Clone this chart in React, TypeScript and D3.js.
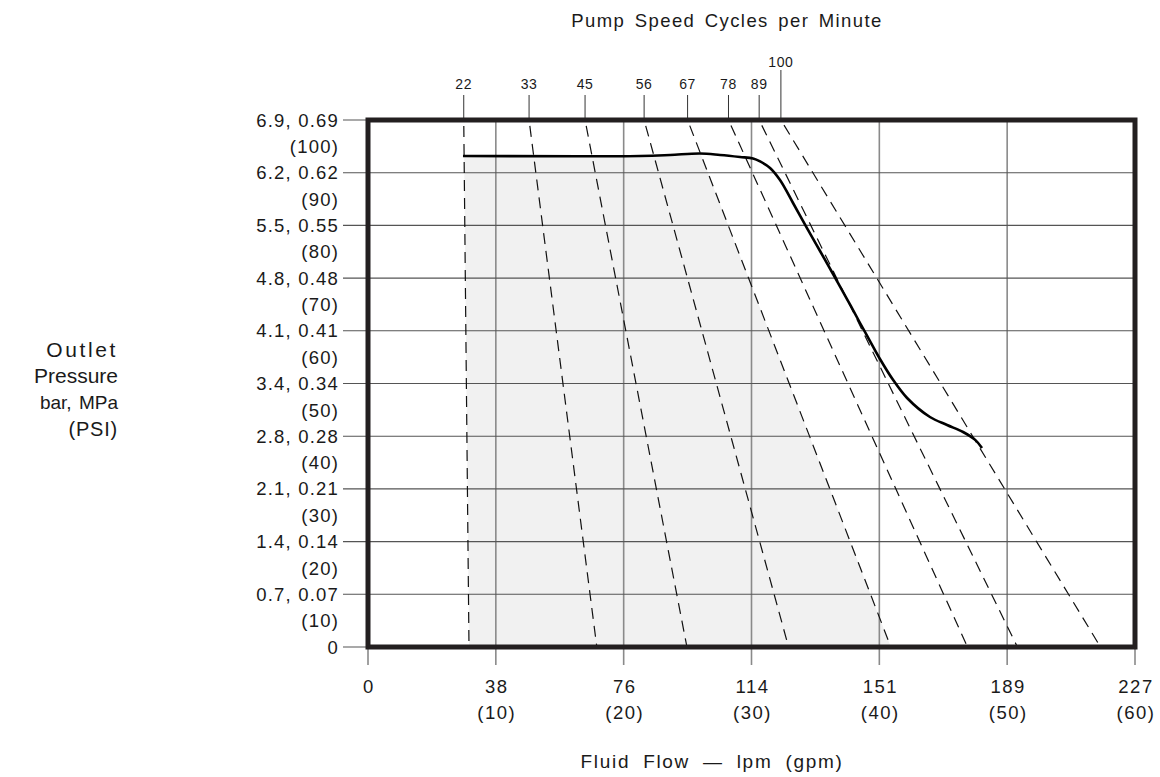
import React from "react";
import * as d3 from "d3";

// ---- data ----
const flowTicksGpm = [0, 10, 20, 30, 40, 50, 60];
const flowTicksLpm = ["0", "38", "76", "114", "151", "189", "227"];
const psiTicks = [0, 10, 20, 30, 40, 50, 60, 70, 80, 90, 100];
const barMpaLabels = ["0", "0.7, 0.07", "1.4, 0.14", "2.1, 0.21", "2.8, 0.28", "3.4, 0.34", "4.1, 0.41", "4.8, 0.48", "5.5, 0.55", "6.2, 0.62", "6.9, 0.69"];

const speeds = [22, 33, 45, 56, 67, 78, 89, 100];
const speedFlowAtMaxPsi = [7.49, 12.6, 16.98, 21.6, 25.0, 28.2, 30.6, 32.3];
const speedFlowAtZeroPsi = [7.9, 17.9, 24.95, 32.9, 40.9, 46.9, 50.8, 57.3];

const curveFlow = [7.43, 21.28, 23.63, 25.97, 27.54, 29.1, 30.12, 30.67, 31.45, 32.23, 33.25, 34.34, 35.36, 36.38, 37.47, 38.49, 39.27, 40.05, 41.07, 42.17, 43.96, 45.3, 46.55, 47.5, 48.03];
const curvePsi = [93.17, 93.17, 93.36, 93.64, 93.36, 92.98, 92.69, 92.13, 90.89, 88.6, 84.25, 79.5, 75.14, 70.78, 66.03, 61.48, 58.06, 54.65, 50.7, 47.25, 43.64, 42.13, 40.8, 39.3, 37.76];

const shadeFromSpeedIdx = 0;
const shadeToSpeedIdx = 4;

const yTitleLines = ["Outlet", "Pressure", "bar, MPa", "(PSI)"];

export default function App() {
  const W = 1160, H = 777;
  const x = d3.scaleLinear().domain([0, 60]).range([368, 1135]);
  const y = d3.scaleLinear().domain([0, 100]).range([647, 120]);
  const font = "Liberation Sans, Arial, sans-serif";
  const txt = "#1a1a1a";

  const curve = curveFlow.map((f, i) => [f, curvePsi[i]] as [number, number]);
  const cv = d3.curveCatmullRom.alpha(0.5);
  const line = d3.line<[number, number]>().x(d => x(d[0])).y(d => y(d[1])).curve(cv);
  const area = d3.area<[number, number]>().x(d => x(d[0])).y0(y(0)).y1(d => y(d[1])).curve(cv);

  const clipPts = [
    [x(speedFlowAtZeroPsi[shadeFromSpeedIdx]), y(0)],
    [x(speedFlowAtMaxPsi[shadeFromSpeedIdx]), y(100)],
    [x(speedFlowAtMaxPsi[shadeToSpeedIdx]), y(100)],
    [x(speedFlowAtZeroPsi[shadeToSpeedIdx]), y(0)],
  ].map(p => p.join(",")).join(" ");

  const yTitleSizes = [21, 21, 19, 20];
  const yTitleLs = [2.6, 0, 0, 0.8];
  const yTitleY = [357, 383, 409, 436];

  return (
    <svg width={W} height={H} style={{ position: "absolute", left: 0, top: 0 }} fontFamily={font}>
      <defs>
        <clipPath id="shadeClip">
          <polygon points={clipPts} />
        </clipPath>
        <clipPath id="plotClip">
          <rect x={x(0)} y={y(100)} width={x(60) - x(0)} height={y(0) - y(100)} />
        </clipPath>
      </defs>
      <rect width={W} height={H} fill="#fff" />
      {/* shaded region */}
      <path d={area(curve) || ""} fill="#f1f1f1" clipPath="url(#shadeClip)" />
      {/* vertical grid */}
      {flowTicksGpm.map(g => (
        <line key={"v" + g} x1={x(g)} x2={x(g)} y1={y(100)} y2={y(0) + 18} stroke="#8a8a8a" strokeWidth={1.6} />
      ))}
      {/* horizontal grid */}
      {psiTicks.map(p => (
        <line key={"h" + p} x1={x(0) - 25} x2={x(60)} y1={y(p)} y2={y(p)} stroke="#555" strokeWidth={1.1} />
      ))}
      {/* speed lines */}
      {speeds.map((s, i) => (
        <g key={"s" + s}>
          <line x1={x(speedFlowAtMaxPsi[i])} x2={x(speedFlowAtZeroPsi[i])} y1={y(100)} y2={y(0)}
            stroke="#111" strokeWidth={1.2} strokeDasharray="11,7" strokeDashoffset={-6} clipPath="url(#plotClip)" />
          <line x1={x(speedFlowAtMaxPsi[i])} x2={x(speedFlowAtMaxPsi[i])} y1={s === 100 ? 70 : 95} y2={y(100)}
            stroke="#333" strokeWidth={1} />
          <text x={x(speedFlowAtMaxPsi[i])} y={s === 100 ? 67 : 89} textAnchor="middle" fontSize={14} letterSpacing={0.6} fill={txt}>{s}</text>
        </g>
      ))}
      {/* pump curve */}
      <path d={line(curve) || ""} fill="none" stroke="#000" strokeWidth={2.6} />
      {/* frame */}
      <rect x={x(0)} y={y(100)} width={x(60) - x(0)} height={y(0) - y(100)} fill="none" stroke="#231f20" strokeWidth={5} />
      {/* y labels */}
      {psiTicks.map((p, i) => (
        <g key={"yl" + p}>
          <text x={339} y={y(p) + 6.5} textAnchor="end" fontSize={18.5} letterSpacing={1.2} fill={txt}>{barMpaLabels[i]}</text>
          {p > 0 && <text x={339} y={y(p) + 33} textAnchor="end" fontSize={18.5} letterSpacing={1.2} fill={txt}>({p})</text>}
        </g>
      ))}
      {/* x labels */}
      {flowTicksGpm.map((g, i) => (
        <g key={"xl" + g}>
          <text x={x(g) + 1} y={693} textAnchor="middle" fontSize={18.5} letterSpacing={1.5} fill={txt}>{flowTicksLpm[i]}</text>
          {g > 0 && <text x={x(g) + 1} y={719} textAnchor="middle" fontSize={18.5} letterSpacing={1.5} fill={txt}>({g})</text>}
        </g>
      ))}
      <text x={727} y={27} textAnchor="middle" fontSize={18.5} letterSpacing={1.4} wordSpacing={3} fill={txt}>Pump Speed Cycles per Minute</text>
      <text x={712} y={768} textAnchor="middle" fontSize={19} letterSpacing={1.7} wordSpacing={6} fill={txt}>Fluid Flow — lpm (gpm)</text>
      {yTitleLines.map((t, i) => (
        <text key={t} x={118} y={yTitleY[i]} textAnchor="end" fontSize={yTitleSizes[i]} letterSpacing={yTitleLs[i]} wordSpacing={2} fill={txt}>{t}</text>
      ))}
    </svg>
  );
}
